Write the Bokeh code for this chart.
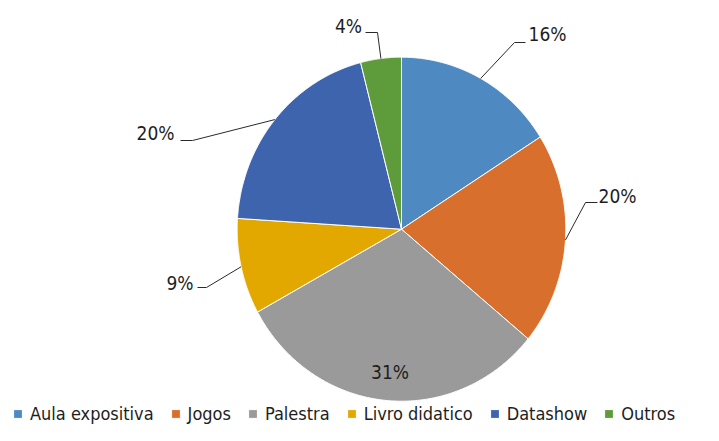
import numpy as np
from bokeh.plotting import figure
from bokeh.models import Range1d, Legend, LegendItem, ColumnDataSource
from bokeh.core.properties import value
from bokeh.embed import file_html
from bokeh.resources import INLINE

# ---- data ----
categories = ["Aula expositiva", "Jogos", "Palestra", "Livro didatico", "Datashow", "Outros"]
percent = [16, 20, 31, 9, 20, 4]
colors = ["#4E8AC1", "#D86F2C", "#9A9A9A", "#E3A800", "#3D64AD", "#5E9B3B"]

# ---- layout (picture pixel coordinates) ----
CX, CY, RX, RY = 401.0, 228.7, 164.3, 172.0
label_x = [547, 617, 389.5, 179.5, 155, 348]
label_y = [33, 195.5, 371, 282, 132.5, 25]
elbow_x = [514, 585, None, 206, 192, 377]
elbow_y = [42, 202, None, 287, 140, 32]
tail_x = [525, 597, None, 197, 180, 365]

FONT = "DejaVu Sans Condensed"
TEXT_COLOR = "#1e1e1e"

p = figure(width=703, height=425, x_range=Range1d(0, 703), y_range=Range1d(425, 0),
           output_backend="svg", toolbar_location=None, min_border=0,
           x_axis_location=None, y_axis_location=None)
p.grid.visible = False
p.outline_line_color = None
p.background_fill_color = "white"

total = float(sum(percent))
cum = np.concatenate([[0.0], np.cumsum(percent)]) / total
items = []
for i, cat in enumerate(categories):
    a0, a1 = 2 * np.pi * cum[i], 2 * np.pi * cum[i + 1]
    t = np.linspace(a0, a1, 200)
    xs = np.concatenate([[CX], CX + RX * np.sin(t)])
    ys = np.concatenate([[CY], CY - RY * np.cos(t)])
    r = p.patch(xs, ys, fill_color=colors[i], line_color="white", line_width=1)
    items.append(LegendItem(label=cat, renderers=[r]))

# leader lines: from slice edge at mid angle to elbow to tail
lx, ly = [], []
for i in range(len(categories)):
    if elbow_x[i] is None:
        continue
    mid = np.pi * (cum[i] + cum[i + 1])
    ax = CX + RX * np.sin(mid)
    ay = CY - RY * np.cos(mid)
    lx.append([ax, elbow_x[i], tail_x[i]])
    ly.append([ay, elbow_y[i], elbow_y[i]])
p.multi_line(lx, ly, line_color="#2a2a2a", line_width=1)

src = ColumnDataSource(dict(x=label_x, y=label_y, txt=[f"{v}%" for v in percent]))
p.text(x="x", y="y", text="txt", source=src, text_font=value(FONT), text_font_size="19px",
       text_align="center", text_baseline="middle", text_color=TEXT_COLOR)

legend = Legend(items=items, orientation="horizontal", location=(12, 1),
                border_line_color=None, background_fill_alpha=0, padding=0, margin=0,
                spacing=16, label_standoff=7, glyph_width=11, glyph_height=11,
                label_text_font=FONT, label_text_font_size="18px", label_text_color=TEXT_COLOR,
                label_height=22)
p.add_layout(legend)

open("out.html", "w").write(file_html(p, INLINE))
